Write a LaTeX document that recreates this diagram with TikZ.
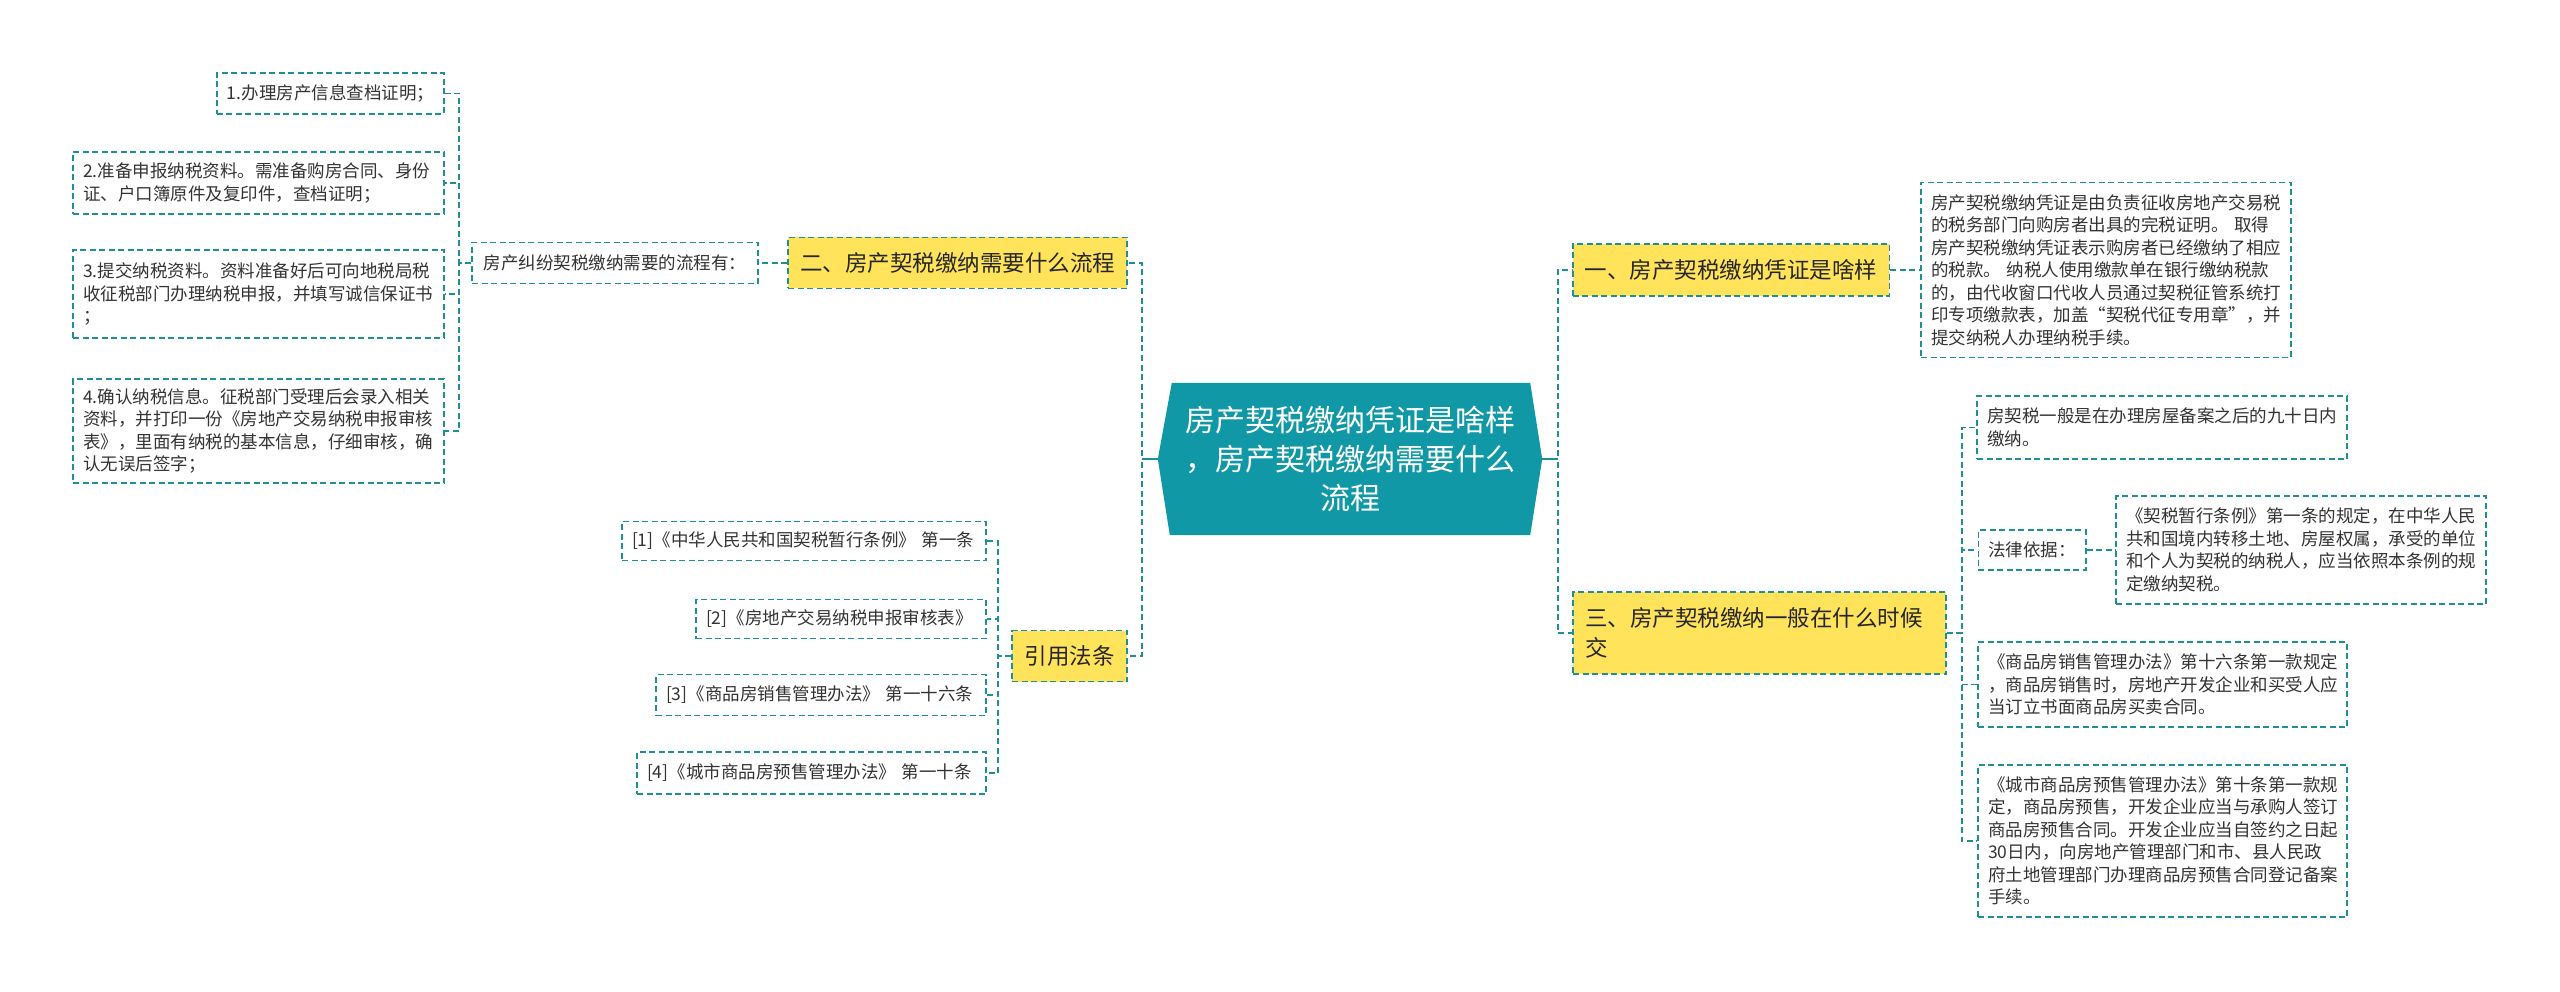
\documentclass[tikz,border=0pt]{standalone}
\usepackage{fontspec}
\setmainfont{Noto Sans CJK SC}
\usetikzlibrary{calc}
\usetikzlibrary{backgrounds}

\definecolor{tealline}{RGB}{30,143,152}
\definecolor{tealfill}{RGB}{17,152,166}
\definecolor{topicfill}{RGB}{255,227,90}
\definecolor{inktext}{RGB}{51,51,51}

\begin{document}
\begin{tikzpicture}[x=1pt, y=-1pt,
  link/.style={draw=tealline, line width=1.7pt, dash pattern=on 6pt off 3.5pt},
  leaf/.style={draw=tealline, line width=1.5pt, dash pattern=on 6pt off 3.5pt, fill=white,
    text=inktext, align=left, inner xsep=10pt, inner ysep=0pt,
    font=\fontsize{17.5}{22.5}\selectfont},
  topic/.style={leaf, fill=topicfill, text=black!85, inner xsep=12pt,
    font=\fontsize{22.5}{30}\selectfont}]
\useasboundingbox (0,0) rectangle (2560,992);

\node[name=root, minimum width=384pt, minimum height=152pt, text=white, align=center,
  font=\fontsize{30}{39}\selectfont] at (1350,459) {房产契税缴纳凭证是啥样\\，房产契税缴纳需要什么\\流程};

% left branch
\node[name=topic_2, topic, minimum width=339pt, minimum height=51pt] at (957.5,263) {二、房产契税缴纳需要什么流程};
\node[name=flow, leaf, minimum width=286pt, minimum height=41pt] at (615,263) {房产纠纷契税缴纳需要的流程有：};
\node[name=flow_1, leaf, minimum width=227pt, minimum height=41pt] at (330.5,93.5) {1.办理房产信息查档证明；};
\node[name=flow_2, leaf, text width=351pt, minimum height=62pt] at (258.5,183) {2.准备申报纳税资料。需准备购房合同、身份\\证、户口簿原件及复印件，查档证明；};
\node[name=flow_3, leaf, text width=351pt, minimum height=88pt] at (258.5,294) {3.提交纳税资料。资料准备好后可向地税局税\\收征税部门办理纳税申报，并填写诚信保证书\\；};
\node[name=flow_4, leaf, text width=351pt, minimum height=104pt] at (258.5,431) {4.确认纳税信息。征税部门受理后会录入相关\\资料，并打印一份《房地产交易纳税申报审核\\表》，里面有纳税的基本信息，仔细审核，确\\认无误后签字；};

\node[name=cite, topic, minimum width=115pt, minimum height=51pt] at (1069.5,656) {引用法条};
\node[name=ref_1, leaf, text width=344pt, minimum height=39pt] at (804,541) {[1]《中华人民共和国契税暂行条例》 第一条};
\node[name=ref_2, leaf, text width=270pt, minimum height=39pt] at (841,619) {[2]《房地产交易纳税申报审核表》};
\node[name=ref_3, leaf, text width=310pt, minimum height=41pt] at (821,695) {[3]《商品房销售管理办法》 第一十六条};
\node[name=ref_4, leaf, text width=329pt, minimum height=42pt] at (811.5,773) {[4]《城市商品房预售管理办法》 第一十条};

% right branch
\node[name=topic_1, topic, minimum width=316pt, minimum height=52pt] at (1731,270) {一、房产契税缴纳凭证是啥样};
\node[name=desc, leaf, text width=350pt, minimum height=175pt] at (2106,270) {房产契税缴纳凭证是由负责征收房地产交易税\\的税务部门向购房者出具的完税证明。 取得\\房产契税缴纳凭证表示购房者已经缴纳了相应\\的税款。 纳税人使用缴款单在银行缴纳税款\\的，由代收窗口代收人员通过契税征管系统打\\印专项缴款表，加盖“契税代征专用章”，并\\提交纳税人办理纳税手续。};

\node[name=topic_3, topic, text width=349pt, minimum height=82pt] at (1759.5,633) {三、房产契税缴纳一般在什么时候\\交};
\node[name=when_1, leaf, text width=350pt, minimum height=63pt] at (2162,427.5) {房契税一般是在办理房屋备案之后的九十日内\\缴纳。};
\node[name=law, leaf, minimum width=106pt, minimum height=40pt] at (2032,550) {法律依据：};
\node[name=law_text, leaf, text width=350pt, minimum height=108pt] at (2301,550) {《契税暂行条例》第一条的规定，在中华人民\\共和国境内转移土地、房屋权属，承受的单位\\和个人为契税的纳税人，应当依照本条例的规\\定缴纳契税。};
\node[name=when_3, leaf, text width=349pt, minimum height=85pt] at (2162.5,684.5) {《商品房销售管理办法》第十六条第一款规定\\，商品房销售时，房地产开发企业和买受人应\\当订立书面商品房买卖合同。};
\node[name=when_4, leaf, text width=349pt, minimum height=152pt] at (2162.5,841) {《城市商品房预售管理办法》第十条第一款规\\定，商品房预售，开发企业应当与承购人签订\\商品房预售合同。开发企业应当自签约之日起\\30日内，向房地产管理部门和市、县人民政\\府土地管理部门办理商品房预售合同登记备案\\手续。};

\begin{scope}[on background layer]
\fill[white] (0,0) rectangle (2560,992);
\fill[tealfill] ($(root.north west)+(14,0)$) -- ($(root.north east)+(-12,0)$) -- (root.east)
  -- ($(root.south east)+(-12,0)$) -- ($(root.south west)+(12,0)$) -- (root.west) -- cycle;
\end{scope}

\draw[tealline, line width=1.7pt](root.west) -- ++(-16,0);
\draw[tealline, line width=1.7pt](root.east) -- ++(16,0);
\draw[link](root.west) -- ++(-16,0) |- (topic_2.east);
\draw[link](root.west) -- ++(-16,0) |- (cite.east);
\draw[link](topic_2.west) -- (flow.east);
\draw[link](flow.west) -- ++(-12,0) |- (flow_1.east);
\draw[link](flow.west) -- ++(-12,0) |- (flow_2.east);
\draw[link](flow.west) -- ++(-12,0) |- (flow_3.east);
\draw[link](flow.west) -- ++(-12,0) |- (flow_4.east);
\draw[link](cite.west) -- ++(-13,0) |- (ref_1.east);
\draw[link](cite.west) -- ++(-13,0) |- (ref_2.east);
\draw[link](cite.west) -- ++(-13,0) |- (ref_3.east);
\draw[link](cite.west) -- ++(-13,0) |- (ref_4.east);

\draw[link](root.east) -- ++(16,0) |- (topic_1.west);
\draw[link](root.east) -- ++(16,0) |- (topic_3.west);
\draw[link](topic_1.east) -- (desc.west);
\draw[link](topic_3.east) -- ++(15,0) |- (when_1.west);
\draw[link](topic_3.east) -- ++(15,0) |- (law.west);
\draw[link](topic_3.east) -- ++(15,0) |- (when_3.west);
\draw[link](topic_3.east) -- ++(15,0) |- (when_4.west);
\draw[link](law.east) -- (law_text.west);

\end{tikzpicture}
\end{document}
